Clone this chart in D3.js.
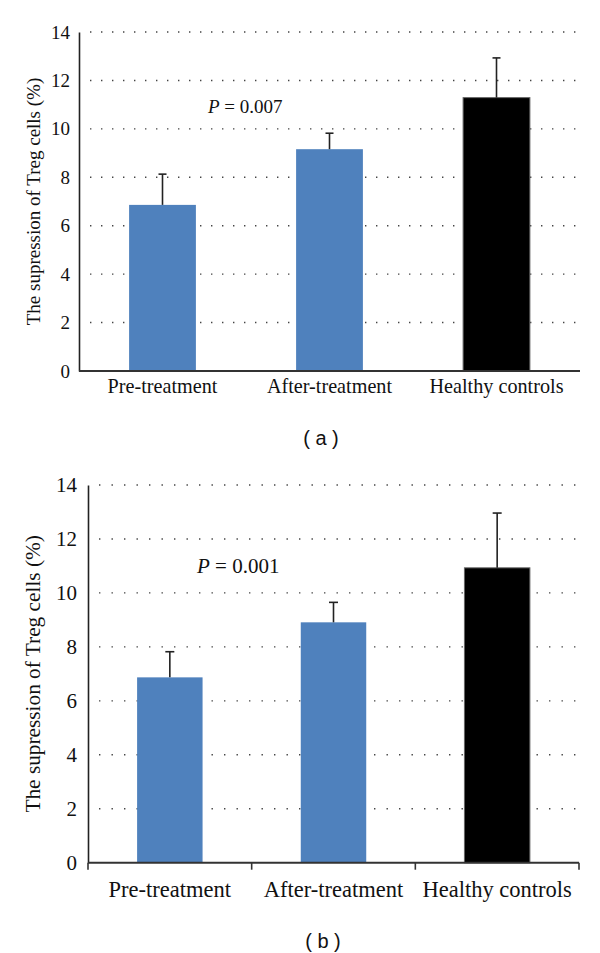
<!DOCTYPE html>
<html><head><meta charset="utf-8">
<script src="https://cdn.jsdelivr.net/npm/d3@7"></script>
<style>body{margin:0;background:#fff}svg{display:block}</style>
</head><body>
<svg id="chart" width="600" height="953"></svg>
<script>
const categories = ["Pre-treatment", "After-treatment", "Healthy controls"];
const meansA = [6.86, 9.16, 11.29];
const errorsA = [1.27, 0.66, 1.64];
const meansB = [6.87, 8.91, 10.93];
const errorsB = [0.95, 0.74, 2.03];
const barColors = ["#4f81bd", "#4f81bd", "#000000"];
const yTicks = [0, 2, 4, 6, 8, 10, 12, 14];
const yLabel = "The supression of Treg cells (%)";
const pValues = ["0.007", "0.001"];
const captions = ["( a )", "( b )"];

const panels = [
  {means: meansA, errors: errorsA, p: pValues[0], caption: captions[0],
   x0: 79, x1: 580, yTop: 32, yBot: 371, fs: 19, xfs: 20.2, lfs: 19, tickGap: 9, labelX: 33,
   xLabY: 393, capX: 321, capY: 438, pX: 208, pY: 113, xTicks: false, dash: "1.4,9.6", capW: 8},
  {means: meansB, errors: errorsB, p: pValues[1], caption: captions[1],
   x0: 88, x1: 579, yTop: 485, yBot: 862.7, fs: 21, xfs: 22.5, lfs: 21.3, tickGap: 11, labelX: 33,
   xLabY: 897, capX: 323, capY: 941, pX: 197, pY: 573, xTicks: true, dash: "1.4,11.1", capW: 9}
];

const svg = d3.select("#chart");
const serif = "'Liberation Serif', 'Times New Roman', serif";

panels.forEach(P => {
  const g = svg.append("g");
  const x = d3.scaleBand().domain(categories).range([P.x0, P.x1]).paddingInner(0.6).paddingOuter(0.3);
  const y = d3.scaleLinear().domain([0, 14]).range([P.yBot, P.yTop]);

  // gridlines
  g.selectAll("line.grid").data(yTicks.filter(t => t > 0)).join("line")
    .attr("x1", P.x0 + 2).attr("x2", P.x1)
    .attr("y1", d => y(d)).attr("y2", d => y(d))
    .attr("stroke", "#444").attr("stroke-width", 1.4)
    .attr("stroke-dasharray", P.dash).attr("stroke-dashoffset", -9);

  // bars
  g.selectAll("rect.bar").data(categories).join("rect")
    .attr("x", d => x(d)).attr("width", x.bandwidth())
    .attr("y", (d, i) => y(P.means[i]))
    .attr("height", (d, i) => y(0) - y(P.means[i]))
    .attr("fill", (d, i) => barColors[i])
    .attr("stroke", (d, i) => i === 2 ? "#666" : "none")
    .attr("stroke-width", 1);

  // error bars (upper only)
  categories.forEach((c, i) => {
    const cx = x(c) + x.bandwidth() / 2;
    g.append("line").attr("x1", cx).attr("x2", cx)
      .attr("y1", y(P.means[i])).attr("y2", y(P.means[i] + P.errors[i]))
      .attr("stroke", "#222").attr("stroke-width", 1.6);
    g.append("line").attr("x1", cx - P.capW / 2).attr("x2", cx + P.capW / 2)
      .attr("y1", y(P.means[i] + P.errors[i])).attr("y2", y(P.means[i] + P.errors[i]))
      .attr("stroke", "#222").attr("stroke-width", 1.6);
  });

  // y axis
  const ya = d3.axisLeft(y).tickValues(yTicks).tickSize(0).tickPadding(P.tickGap);
  const yg = g.append("g").attr("transform", `translate(${P.x0},0)`).call(ya);
  yg.attr("font-family", null).attr("font-size", null);
  yg.select(".domain").attr("stroke", "#222").attr("stroke-width", 1.6);
  yg.selectAll("text").style("font-family", serif).style("font-size", P.fs + "px").attr("fill", "#111");

  // x axis
  g.append("line").attr("x1", P.x0).attr("x2", P.x1)
    .attr("y1", P.yBot).attr("y2", P.yBot)
    .attr("stroke", "#333").attr("stroke-width", 2);
  if (P.xTicks) {
    const bounds = [P.x0].concat(categories.map(c => x(c) + x.bandwidth() + x.step() * x.paddingInner() / 2));
    g.selectAll("line.xt").data(bounds).join("line")
      .attr("x1", d => d).attr("x2", d => d)
      .attr("y1", P.yBot).attr("y2", P.yBot + 7)
      .attr("stroke", "#333").attr("stroke-width", 1.6);
  }
  g.selectAll("text.xl").data(categories).join("text")
    .attr("x", d => x(d) + x.bandwidth() / 2).attr("y", P.xLabY)
    .attr("text-anchor", "middle").style("font-family", serif)
    .style("font-size", P.xfs + "px").attr("fill", "#111").text(d => d);

  // y label
  g.append("text")
    .attr("transform", `translate(${P.labelX},${(P.yTop + P.yBot) / 2}) rotate(-90)`)
    .attr("text-anchor", "middle").attr("dominant-baseline", "central")
    .style("font-family", serif).style("font-size", P.lfs + "px").attr("fill", "#111").text(yLabel);

  // P value
  const pt = g.append("text").attr("x", P.pX).attr("y", P.pY)
    .style("font-family", serif).style("font-size", P.fs + "px").attr("fill", "#111");
  pt.append("tspan").attr("font-style", "italic").text("P");
  pt.append("tspan").text(" = " + P.p);

  // caption
  g.append("text").attr("x", P.capX).attr("y", P.capY)
    .attr("text-anchor", "middle").attr("dominant-baseline", "central")
    .style("font-family", "'Liberation Sans', Arial, sans-serif").style("font-size", "20px")
    .attr("fill", "#111").text(P.caption);
});
</script>
</body></html>
